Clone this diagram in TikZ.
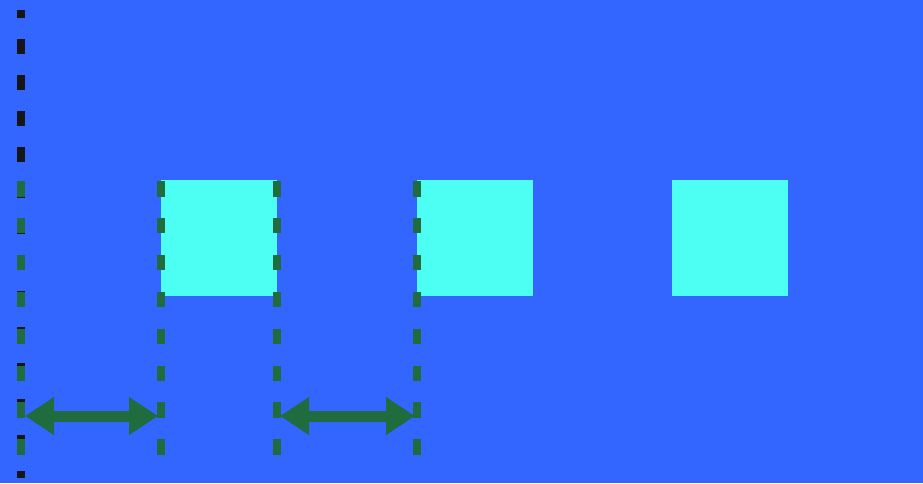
\documentclass[tikz,border=0pt]{standalone}
\usetikzlibrary{arrows.meta}
\definecolor{bgblue}{RGB}{51,102,255}
\definecolor{sqcyan}{RGB}{77,255,243}
\definecolor{guidegreen}{RGB}{33,108,62}
\definecolor{guideblack}{RGB}{22,22,22}
\begin{document}
\begin{tikzpicture}[x=1pt,y=-1pt,
  sq/.style={fill=sqcyan,draw=none,minimum size=116pt,inner sep=0pt,outer sep=0pt},
  blackguide/.style={draw=guideblack,line width=8pt,dash pattern=on 15pt off 21pt,dash phase=7pt},
  greenguide/.style={draw=guidegreen,line width=8pt,dash pattern=on 15.5pt off 21.4pt},
  gap/.style={draw=guidegreen,line width=11pt,{Triangle[length=29pt,width=36pt]}-{Triangle[length=29pt,width=36pt]}}]
  \fill[bgblue] (0,0) rectangle (923,483);
  \useasboundingbox (0,0) rectangle (923,483);
  \node[sq] (sq1) at (219,238) {};
  \node[sq] (sq2) at (475,238) {};
  \node[sq] (sq3) at (730,238) {};
  \coordinate (btop) at (21,10);
  \coordinate (bbot) at (21,478);
  \draw[blackguide] (btop) -- (bbot);
  \coordinate (g0t) at (21,181);  \coordinate (g0b) at (21,457);
  \coordinate (g1t) at (161,181); \coordinate (g1b) at (161,457);
  \coordinate (g2t) at (277,181); \coordinate (g2b) at (277,457);
  \coordinate (g3t) at (417,181); \coordinate (g3b) at (417,457);
  \draw[greenguide] (g0t) -- (g0b);
  \draw[greenguide] (g1t) -- (g1b);
  \draw[greenguide] (g2t) -- (g2b);
  \draw[greenguide] (g3t) -- (g3b);
  \coordinate (a1l) at (25,416);  \coordinate (a1r) at (158,416);
  \coordinate (a2l) at (280,416); \coordinate (a2r) at (415,416);
  \draw[gap] (a1l) -- (a1r);
  \draw[gap] (a2l) -- (a2r);
\end{tikzpicture}
\end{document}
